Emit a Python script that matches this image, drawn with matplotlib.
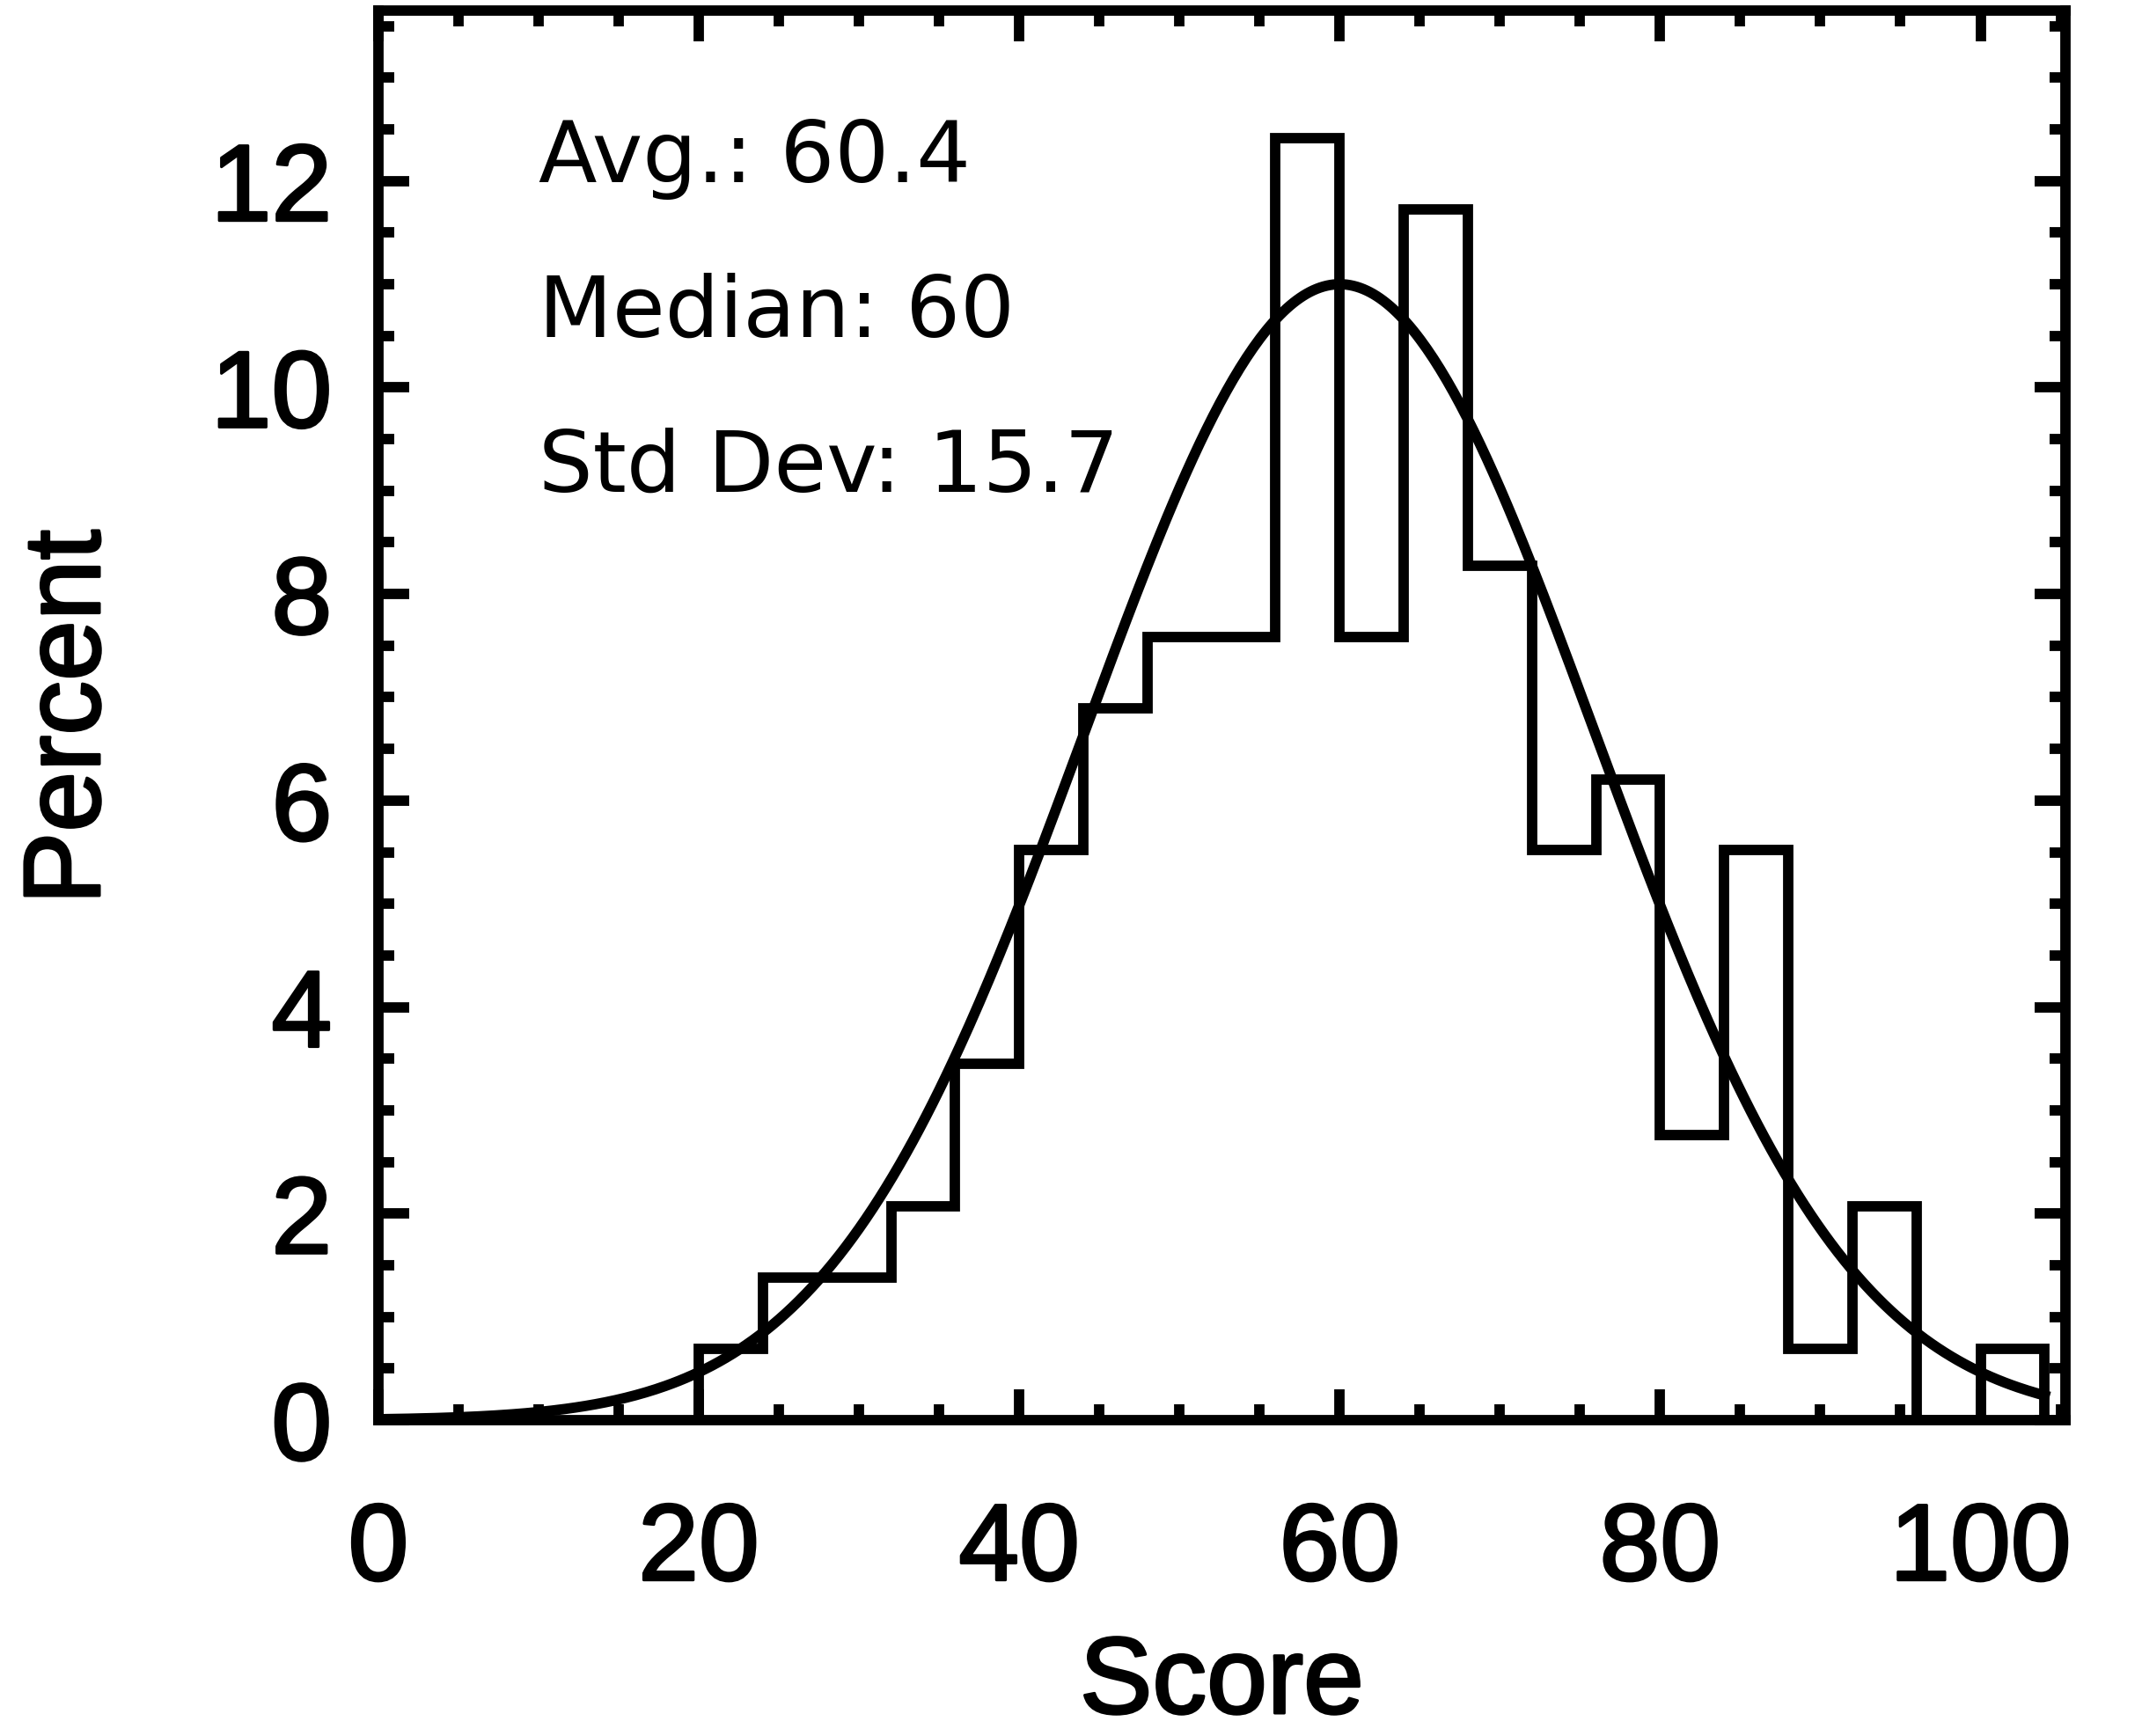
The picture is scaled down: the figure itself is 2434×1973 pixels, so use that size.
import numpy as np
import matplotlib
matplotlib.use('Agg')
import matplotlib.pyplot as plt
import matplotlib.patheffects as pe
from matplotlib.ticker import MultipleLocator
from matplotlib.font_manager import FontProperties

# --- data ---
bin_edges = np.arange(20, 108, 4)            # 20, 24, ..., 104
bin_counts = [1, 2, 2, 3, 5, 8, 10, 11, 11, 18, 11,
              17, 12, 8, 9, 4, 8, 1, 3, 0, 1]
n_total = 145
percent = np.array(bin_counts) / n_total * 100

# gaussian fit overlay (peak, centre, width)
fit_amp = 11.0
fit_mu = 60.0
fit_sigma = 15.9
fit_x = np.linspace(0, 104, 500)
fit_y = fit_amp * np.exp(-(fit_x - fit_mu) ** 2 / (2 * fit_sigma ** 2))

stats_text = ['Avg.: 60.4', 'Median: 60', 'Std Dev: 15.7']
stats_y = [12.0, 10.5, 9.0]

LW = 8.5
TICKFONT = dict(family=['Liberation Sans', 'DejaVu Sans'], weight='normal', size=89)
THICK = [pe.withStroke(linewidth=2.2, foreground='k')]

fig = plt.figure(figsize=(24.34, 19.74), dpi=100)
W, H = 2434, 1974
ax = fig.add_axes([430 / W, (H - 1615) / H, (2347 - 430) / W, (1615 - 13) / H])

ax.stairs(percent, bin_edges, baseline=0, fill=False, color='k', lw=LW,
          joinstyle='miter')
ax.plot(fit_x, fit_y, color='k', lw=LW, solid_joinstyle='round')

for txt, yy in zip(stats_text, stats_y):
    ax.text(10, yy, txt, fontsize=70, family='DejaVu Sans', va='baseline', ha='left')

ax.set_xlim(0, 105.3)
ax.set_ylim(0, 13.65)
ax.xaxis.set_major_locator(MultipleLocator(20))
ax.xaxis.set_minor_locator(MultipleLocator(5))
ax.yaxis.set_major_locator(MultipleLocator(2))
ax.yaxis.set_minor_locator(MultipleLocator(0.5))

for s in ax.spines.values():
    s.set_linewidth(LW)
ax.tick_params(which='both', direction='in', top=True, right=True, width=LW, color='k')
ax.tick_params(which='major', length=25)
ax.tick_params(which='minor', length=13)
ax.tick_params(axis='x', pad=66)
ax.tick_params(axis='y', pad=38)
for lab in ax.get_xticklabels() + ax.get_yticklabels():
    lab.set_fontproperties(FontProperties(**TICKFONT))
    lab.set_path_effects(THICK)

fig.text((430 + 2347) / 2 / W, 0, 'Score', ha='center', va='bottom',
         path_effects=THICK, **TICKFONT)
fig.text(113 / W, 1 - 816 / H, 'Percent', rotation=90, rotation_mode='anchor',
         ha='center', va='baseline', path_effects=THICK, **TICKFONT)

fig.savefig('out.png', dpi=100, facecolor='white')
